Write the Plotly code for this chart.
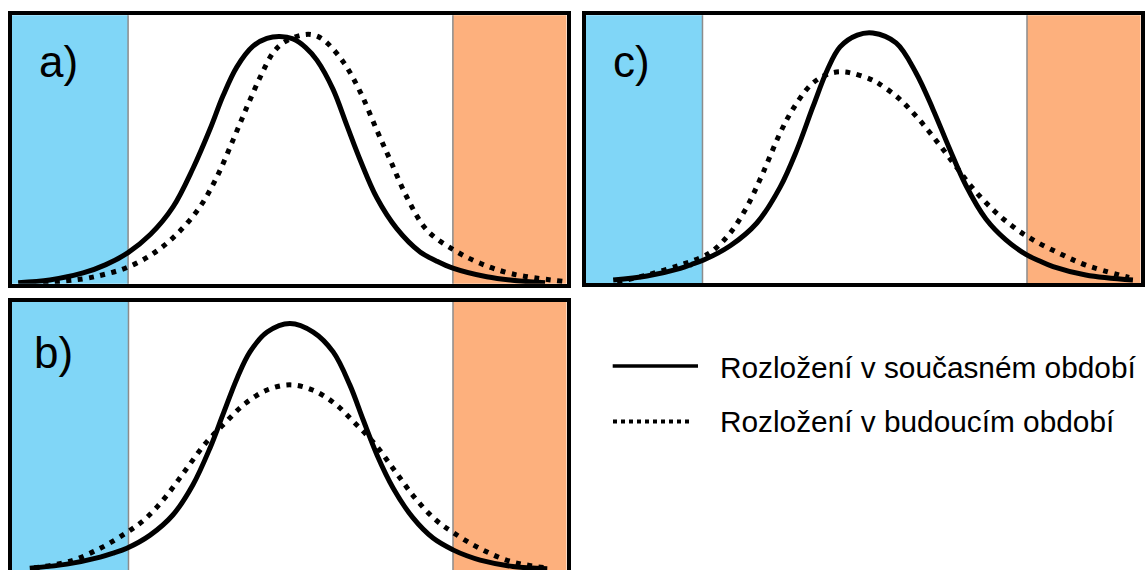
import plotly.graph_objects as go

W, H = 1146, 570

# ---------------- data (x: 0-100 across each panel, y: relative density 0-1) ----------------
thresholds = [21.0, 79.5]           # cold / hot extremes boundaries
x_range = [0, 100]

# panel a) - shift of mean
a_cur_x = [1.2, 6.9, 12.9, 17.0, 21.0, 25.0, 29.1, 32.7, 35.8, 38.1, 40.6, 43.5, 46.0, 48.3, 50.7, 53.0,
           55.0, 57.9, 60.4, 62.8, 65.8, 69.4, 73.6, 76.5, 79.5, 85.6, 93.9, 96.1]
a_cur_y = [0.004, 0.014, 0.040, 0.071, 0.116, 0.183, 0.286, 0.430, 0.578, 0.700, 0.808, 0.885, 0.914, 0.921,
           0.912, 0.880, 0.833, 0.725, 0.590, 0.461, 0.320, 0.205, 0.118, 0.085, 0.058, 0.026, 0.006, 0.004]
a_fut_x = [5.7, 12.9, 17.0, 21.0, 25.5, 29.8, 33.9, 37.0, 39.9, 42.4, 44.8, 47.1, 48.9, 52.0, 54.1, 56.1,
           59.7, 62.8, 65.8, 68.2, 71.2, 74.8, 79.5, 84.4, 90.3, 99.3]
a_fut_y = [0.004, 0.018, 0.036, 0.062, 0.112, 0.185, 0.285, 0.398, 0.535, 0.658, 0.770, 0.860, 0.897, 0.925,
           0.928, 0.910, 0.828, 0.715, 0.572, 0.461, 0.323, 0.200, 0.128, 0.076, 0.036, 0.009]

# panel b) - increase of variance
b_cur_x = [3.2, 9.9, 15.9, 18.3, 20.7, 24.9, 29.0, 32.6, 35.7, 38.0, 40.6, 42.9, 46.0, 50.1, 54.3, 57.9,
           60.9, 63.3, 65.8, 68.7, 72.3, 75.9, 79.5, 82.0, 84.4, 90.3, 96.5]
b_cur_y = [0.007, 0.022, 0.048, 0.063, 0.081, 0.130, 0.205, 0.317, 0.455, 0.578, 0.716, 0.813, 0.887, 0.919,
           0.887, 0.813, 0.690, 0.560, 0.429, 0.306, 0.194, 0.119, 0.075, 0.053, 0.037, 0.013, 0.005]
b_fut_x = [4.0, 10.5, 16.0, 20.7, 24.0, 27.6, 31.2, 34.8, 38.4, 42.0, 46.0, 50.1, 54.2, 58.2, 61.8,
           65.4, 69.0, 72.6, 76.2, 79.5, 84.2, 89.7, 96.2]
b_fut_y = [0.008, 0.033, 0.082, 0.140, 0.190, 0.270, 0.370, 0.470, 0.548, 0.620, 0.671, 0.690, 0.671,
           0.620, 0.548, 0.470, 0.370, 0.270, 0.190, 0.140, 0.082, 0.033, 0.008]

# panel c) - change of shape (skewness)
c_cur_x = [4.9, 11.0, 17.0, 19.0, 21.1, 26.0, 30.8, 35.0, 38.0, 40.9, 43.5, 45.8, 48.9, 51.7, 55.9, 59.5,
           62.6, 65.4, 68.5, 72.1, 75.7, 79.3, 81.8, 84.2, 90.1, 98.6]
c_cur_y = [0.012, 0.027, 0.056, 0.070, 0.086, 0.140, 0.225, 0.359, 0.497, 0.658, 0.796, 0.882, 0.926, 0.934,
           0.897, 0.785, 0.647, 0.509, 0.365, 0.240, 0.162, 0.108, 0.083, 0.062, 0.031, 0.012]
c_fut_x = [5.6, 11.0, 17.0, 21.1, 22.9, 26.0, 29.0, 31.9, 35.0, 37.3, 40.4, 42.7, 44.5, 46.3, 48.1,
           51.2, 52.8, 56.4, 60.0, 63.6, 66.7, 69.8, 73.4, 77.0, 80.6, 85.3, 90.1, 97.9]
c_fut_y = [0.005, 0.031, 0.068, 0.100, 0.122, 0.188, 0.285, 0.412, 0.561, 0.650, 0.738, 0.772, 0.786,
           0.789, 0.783, 0.762, 0.745, 0.690, 0.612, 0.520, 0.436, 0.353, 0.274, 0.211, 0.162, 0.112,
           0.068, 0.022]

panel_labels = ["a)", "b)", "c)"]
legend_labels = ["Rozložení v současném období", "Rozložení v budoucím období"]

# ---------------- styles ----------------
BLUE = "#80D6F7"
ORANGE = "#FDB07D"
SEP = "#8C8C8C"
FONT = "Liberation Sans, Arial, sans-serif"
LW = 5
DOT = "5px,6.5px"


def px_x(p):
    return p / W


def px_y(p):
    return 1 - p / H


# panel geometry (inner plot areas, pixels)
panels = {
    "a": dict(x=(11.5, 566.7), y=(15.3, 283.7), ax="x", ay="y"),
    "b": dict(x=(12.0, 566.7), y=(301.7, 570.0), ax="x2", ay="y2"),
    "c": dict(x=(586.0, 1140.7), y=(15.3, 283.3), ax="x3", ay="y3"),
}
curves = {
    "a": (a_cur_x, a_cur_y, a_fut_x, a_fut_y),
    "b": (b_cur_x, b_cur_y, b_fut_x, b_fut_y),
    "c": (c_cur_x, c_cur_y, c_fut_x, c_fut_y),
}

fig = go.Figure()
shapes = []
for key, p in panels.items():
    cx, cy, fx, fy = curves[key]
    fig.add_trace(go.Scatter(x=cx, y=cy, mode="lines", xaxis=p["ax"], yaxis=p["ay"],
                             line=dict(color="black", width=LW, shape="spline"),
                             showlegend=False, hoverinfo="skip"))
    fig.add_trace(go.Scatter(x=fx, y=fy, mode="lines", xaxis=p["ax"], yaxis=p["ay"],
                             line=dict(color="black", width=LW, dash=DOT, shape="spline"),
                             showlegend=False, hoverinfo="skip"))
    yd = p["ay"] + " domain"
    shapes.append(dict(type="rect", xref=p["ax"], yref=yd, x0=x_range[0], x1=thresholds[0], y0=0, y1=1,
                       fillcolor=BLUE, line=dict(width=0), layer="below"))
    shapes.append(dict(type="rect", xref=p["ax"], yref=yd, x0=thresholds[1], x1=x_range[1], y0=0, y1=1,
                       fillcolor=ORANGE, line=dict(width=0), layer="below"))
    for t in thresholds:
        shapes.append(dict(type="line", xref=p["ax"], yref=yd, x0=t, x1=t, y0=0, y1=1,
                           line=dict(color=SEP, width=1.5), layer="below"))

axis_common = dict(showgrid=False, zeroline=False, showticklabels=False, ticks="",
                   showline=True, mirror=True, linecolor="black", linewidth=3.5, fixedrange=True)

layout_axes = {}
for key, p in panels.items():
    xn = "xaxis" + p["ax"][1:]
    yn = "yaxis" + p["ay"][1:]
    layout_axes[xn] = dict(axis_common, domain=[px_x(p["x"][0]), px_x(p["x"][1])], range=x_range,
                           anchor=p["ay"])
    layout_axes[yn] = dict(axis_common, domain=[px_y(p["y"][1]), px_y(p["y"][0])], range=[0, 1],
                           anchor=p["ax"])

# legend sample lines (pixel positions)
shapes.append(dict(type="line", xref="paper", yref="paper", x0=px_x(612.7), x1=px_x(698),
                   y0=px_y(366), y1=px_y(366), line=dict(color="black", width=3.5)))
shapes.append(dict(type="line", xref="paper", yref="paper", x0=px_x(613), x1=px_x(690),
                   y0=px_y(421.5), y1=px_y(421.5), line=dict(color="black", width=4, dash="4px,4px")))

annotations = []
label_pos = [(37, 61), (31.7, 352), (611, 61)]
for lab, (lx, ly) in zip(panel_labels, label_pos):
    annotations.append(dict(text=lab, xref="paper", yref="paper", x=px_x(lx), y=px_y(ly),
                            xanchor="left", yanchor="middle", showarrow=False,
                            font=dict(family=FONT, size=44, color="black")))
for lab, ly in zip(legend_labels, [367.3, 421.7]):
    annotations.append(dict(text=lab, xref="paper", yref="paper", x=px_x(718.4), y=px_y(ly),
                            xanchor="left", yanchor="middle", showarrow=False,
                            font=dict(family=FONT, size=29.8, color="black")))

fig.update_layout(width=W, height=H, margin=dict(l=0, r=0, t=0, b=0),
                  paper_bgcolor="white", plot_bgcolor="white",
                  shapes=shapes, annotations=annotations, showlegend=False, **layout_axes)

fig.write_html("out.html", config={"displayModeBar": False},
               post_script="document.body.style.margin='0';document.body.style.overflow='hidden';")
